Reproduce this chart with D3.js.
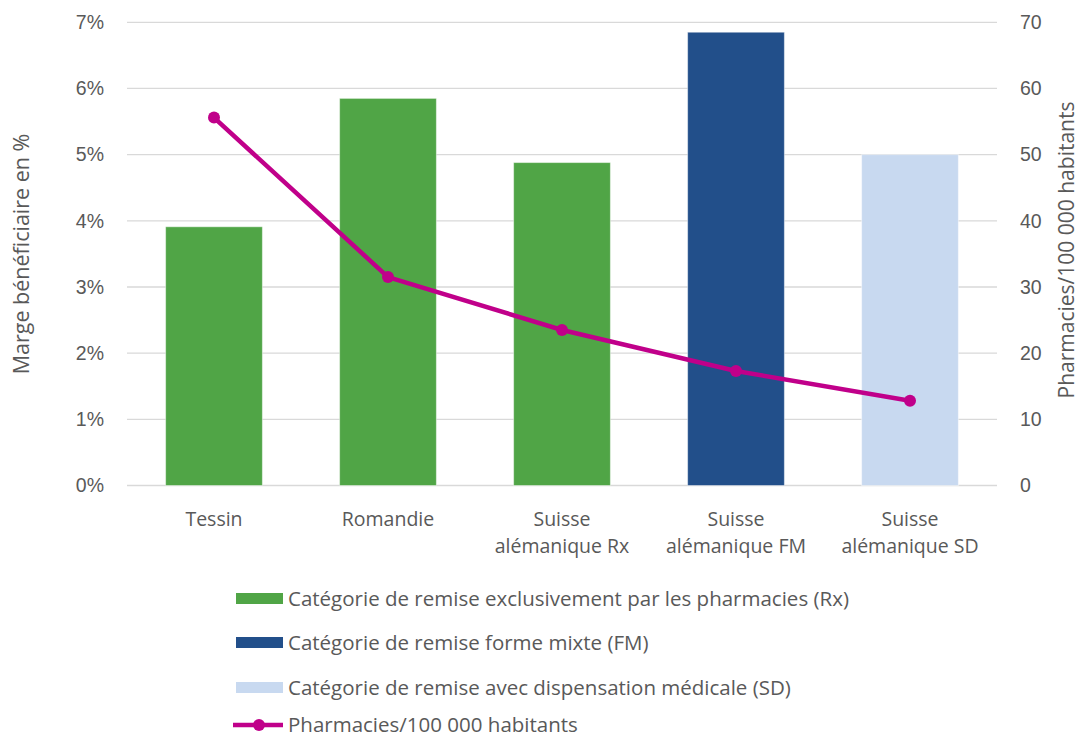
<!DOCTYPE html>
<html>
<head>
<meta charset="utf-8">
<script src="https://cdn.jsdelivr.net/npm/d3@7"></script>
<style>
  html, body { margin: 0; padding: 0; background: #fff; }
  svg { display: block; font-family: "Open Sans", "Noto Sans", sans-serif; }
  .tick text { fill: #595959; }
</style>
</head>
<body>
<svg id="chart" width="1080" height="738"></svg>
<script>
// Regions shown on the category axis (multi-line labels)
const categories = ["Tessin", "Romandie", "Suisse alémanique Rx", "Suisse alémanique FM", "Suisse alémanique SD"];
const categoryLines = [["Tessin"], ["Romandie"], ["Suisse", "alémanique Rx"], ["Suisse", "alémanique FM"], ["Suisse", "alémanique SD"]];
// Profit margin (share, left axis) and discount category of each region
const margin = [0.0391, 0.0585, 0.0488, 0.0685, 0.0500];
const barGroup = ["Rx", "Rx", "Rx", "FM", "SD"];
// Pharmacies per 100 000 inhabitants (right axis)
const density = [55.6, 31.5, 23.5, 17.3, 12.8];
// Axis ticks
const leftTicks = [0, 0.01, 0.02, 0.03, 0.04, 0.05, 0.06, 0.07];
const rightTicks = [0, 10, 20, 30, 40, 50, 60, 70];
// Legend entries
const legendKeys = ["Rx", "FM", "SD", "line"];
const legendLabels = [
  "Catégorie de remise exclusivement par les pharmacies (Rx)",
  "Catégorie de remise forme mixte (FM)",
  "Catégorie de remise avec dispensation médicale (SD)",
  "Pharmacies/100 000 habitants"
];

const colors = { Rx: "#50a546", FM: "#224f8a", SD: "#c8d9f0", line: "#c0008a" };
const textColor = "#595959";

const svg = d3.select("#chart");
const plot = { left: 127, right: 997, top: 22.3, bottom: 485.5 };

const x = d3.scaleBand().domain(categories).range([plot.left, plot.right]).paddingInner(0.444).paddingOuter(0.222);
const yL = d3.scaleLinear().domain([0, 0.07]).range([plot.bottom, plot.top]);
const yR = d3.scaleLinear().domain([0, 70]).range([plot.bottom, plot.top]);

// Horizontal gridlines
svg.append("g")
  .selectAll("line").data(leftTicks).join("line")
  .attr("x1", plot.left).attr("x2", plot.right)
  .attr("y1", d => yL(d)).attr("y2", d => yL(d))
  .attr("stroke", "#d9d9d9").attr("stroke-width", 1.3);

// Left axis
const leftAxis = svg.append("g")
  .attr("transform", `translate(${plot.left},0)`)
  .call(d3.axisLeft(yL).tickValues(leftTicks).tickFormat(d3.format(".0%")).tickSize(0).tickPadding(23));
leftAxis.select(".domain").remove();
leftAxis.selectAll("text").attr("font-size", 19.5).attr("fill", textColor);

// Right axis
const rightAxis = svg.append("g")
  .attr("transform", `translate(${plot.right},0)`)
  .call(d3.axisRight(yR).tickValues(rightTicks).tickSize(0).tickPadding(23));
rightAxis.select(".domain").remove();
rightAxis.selectAll("text").attr("font-size", 19.5).attr("fill", textColor);

// Bars
svg.append("g")
  .selectAll("rect").data(categories).join("rect")
  .attr("x", d => x(d))
  .attr("width", x.bandwidth())
  .attr("y", (d, i) => yL(margin[i]))
  .attr("height", (d, i) => plot.bottom - yL(margin[i]))
  .attr("fill", (d, i) => colors[barGroup[i]])
  .attr("stroke", "#ffffff").attr("stroke-opacity", 0.45).attr("stroke-width", 1);

// Line with markers
const line = d3.line().x((d, i) => x(categories[i]) + x.bandwidth() / 2).y(d => yR(d));
svg.append("path")
  .datum(density)
  .attr("d", line)
  .attr("fill", "none")
  .attr("stroke", colors.line)
  .attr("stroke-width", 4.5)
  .attr("stroke-linejoin", "round");
svg.append("g")
  .selectAll("circle").data(density).join("circle")
  .attr("cx", (d, i) => x(categories[i]) + x.bandwidth() / 2)
  .attr("cy", d => yR(d))
  .attr("r", 6)
  .attr("fill", colors.line);

// Category labels
const catG = svg.append("g").attr("font-size", 19.5).attr("fill", textColor).attr("text-anchor", "middle");
categoryLines.forEach((lines, i) => {
  const cx = x(categories[i]) + x.bandwidth() / 2;
  const t = catG.append("text").attr("x", cx).attr("y", 526);
  lines.forEach((ln, j) => t.append("tspan").attr("x", cx).attr("dy", j === 0 ? 0 : 27).text(ln));
});

// Axis titles
svg.append("text")
  .attr("transform", "translate(29,254) rotate(-90)")
  .attr("text-anchor", "middle")
  .attr("font-size", 21.5).attr("fill", textColor)
  .text("Marge bénéficiaire en %");
svg.append("text")
  .attr("transform", "translate(1074,250) rotate(-90)")
  .attr("text-anchor", "middle")
  .attr("font-size", 21).attr("fill", textColor)
  .text("Pharmacies/100 000 habitants");

// Legend
const legendY = [598.5, 642.5, 687.5, 725];
const lg = svg.append("g");
legendKeys.forEach((k, i) => {
  const g = lg.append("g").attr("transform", `translate(236,${legendY[i]})`);
  if (k === "line") {
    g.append("line").attr("x1", -3).attr("x2", 47).attr("y1", 0).attr("y2", 0)
      .attr("stroke", colors.line).attr("stroke-width", 4.5);
    g.append("circle").attr("cx", 23).attr("cy", 0).attr("r", 6).attr("fill", colors.line);
  } else {
    g.append("rect").attr("x", 0).attr("y", -5.5).attr("width", 47).attr("height", 11).attr("fill", colors[k]);
  }
  g.append("text").attr("x", 52).attr("y", 0).attr("dy", "0.35em")
    .attr("font-size", 20.5).attr("fill", textColor).text(legendLabels[i]);
});
</script>
</body>
</html>
